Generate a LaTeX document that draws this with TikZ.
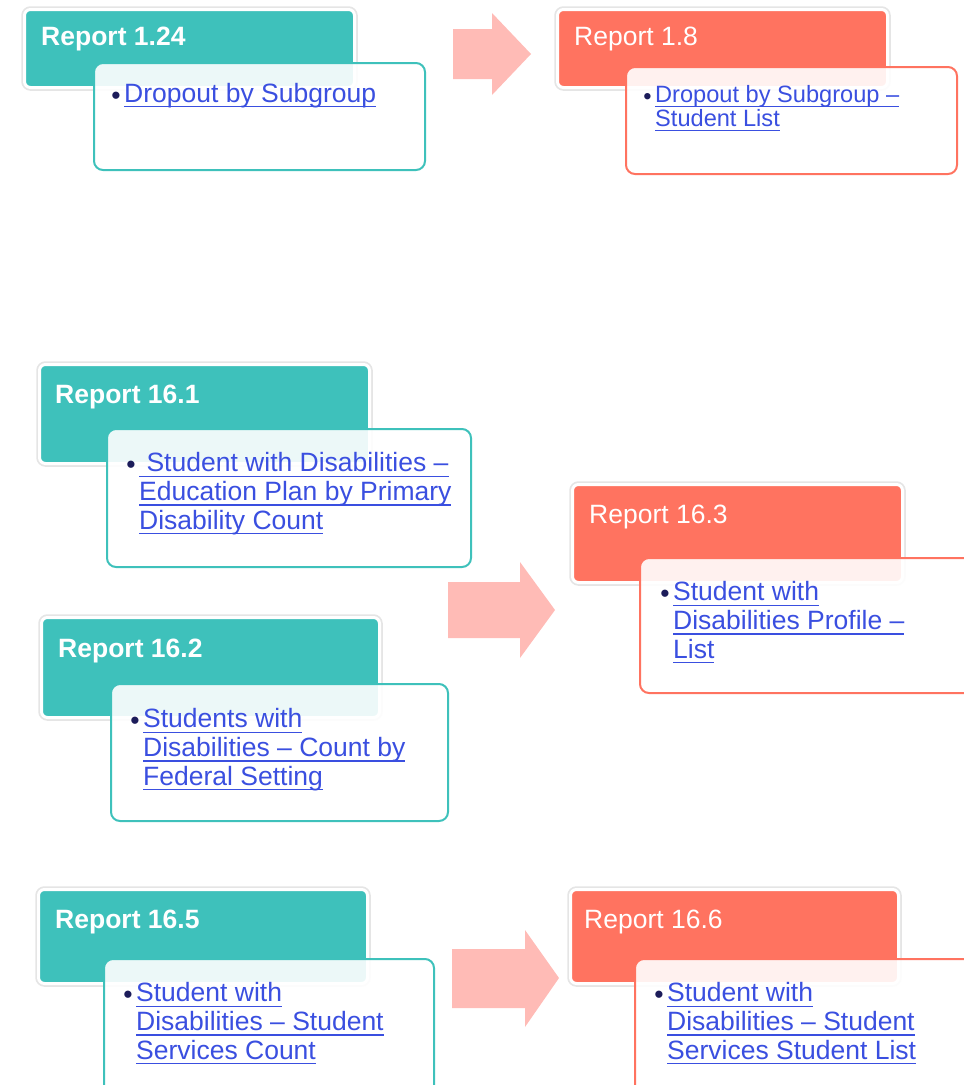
\documentclass[tikz,border=0pt]{standalone}
\usepackage{fontspec}
\setmainfont{Liberation Sans}

\definecolor{tealbox}{HTML}{3EC1BB}
\definecolor{salmonbox}{HTML}{FF7360}
\definecolor{arrowpink}{HTML}{FFBBB6}
\definecolor{linkblue}{HTML}{3A4FE0}
\definecolor{bulletnavy}{HTML}{1C1C5A}

% underlined link text and bullet
\newcommand{\linkline}[1]{\setbox0=\hbox{#1}\rlap{\rule[-5.2pt]{\wd0}{1.5pt}}\box0}
\newcommand{\blt}{\llap{\color{bulletnavy}\raisebox{-2pt}{\textbullet}\hspace{3.5pt}}}

\tikzset{
  report/.style={rounded corners=6pt, draw=white, line width=3pt, anchor=north west,
    inner sep=0pt, minimum width=330pt,
    preaction={draw=black!10, line width=6.5pt}},
  detail/.style={rounded corners=9pt, line width=2pt, fill=white, fill opacity=0.9,
    anchor=north west, inner sep=0pt},
  title/.style={anchor=base west, inner sep=0pt, text=white, font=\fontsize{26.5}{29}\selectfont},
  linktext/.style={anchor=base west, inner sep=0pt, align=left, text=linkblue,
    font=\fontsize{26.5}{28.6}\selectfont},
  blockarrow/.style={fill=arrowpink}
}

\begin{document}
\begin{tikzpicture}[x=1pt, y=-1pt]
\useasboundingbox (0,0) rectangle (964,1085);

% report 1.24 -> 1.8
\node (rep124) [report, fill=tealbox, minimum height=78pt] at (23,8) {};
\node (tit124) [title, font=\fontsize{26.5}{29}\selectfont\bfseries] at (41,45) {Report 1.24};
\node (box124) [detail, draw=tealbox, minimum width=331pt, minimum height=107pt] at (93,62) {};
\node (txt124) [linktext] at (124,102) {\blt\linkline{Dropout by Subgroup}};

\fill[blockarrow] (453,29) -- (492,29) -- (492,13) -- (531,54) -- (492,95) -- (492,79) -- (453,79) -- cycle;

\node (rep18) [report, fill=salmonbox, minimum height=78pt] at (556,8) {};
\node (tit18) [title] at (574,45) {Report 1.8};
\node (box18) [detail, draw=salmonbox, minimum width=331pt, minimum height=107pt] at (625,66) {};
% base anchor of a multi-line node sits on its last line
\node (txt18) [linktext, font=\fontsize{23.6}{24}\selectfont] at (655,126)
  {\blt\linkline{Dropout by Subgroup –}\\\linkline{Student List}};

% report 16.1 and 16.2 -> 16.3
\node (rep161) [report, fill=tealbox, minimum height=99pt] at (38,363) {};
\node (tit161) [title, font=\fontsize{26.5}{29}\selectfont\bfseries] at (55,403) {Report 16.1};
\node (box161) [detail, draw=tealbox, minimum width=364pt, minimum height=138pt] at (106,428) {};
\node (txt161) [linktext] at (139,529)
  {\blt\linkline{\ Student with Disabilities –}\\\linkline{Education Plan by Primary}\\\linkline{Disability Count}};

\node (rep162) [report, fill=tealbox, minimum width=338pt, minimum height=100pt] at (40,616) {};
\node (tit162) [title, font=\fontsize{26.5}{29}\selectfont\bfseries] at (58,657) {Report 16.2};
\node (box162) [detail, draw=tealbox, minimum width=337pt, minimum height=137pt] at (110,683) {};
\node (txt162) [linktext] at (143,785)
  {\blt\linkline{Students with}\\\linkline{Disabilities – Count by}\\\linkline{Federal Setting}};

\fill[blockarrow] (448,582) -- (520,582) -- (520,562) -- (555,610) -- (520,658) -- (520,638) -- (448,638) -- cycle;

\node (rep163) [report, fill=salmonbox, minimum height=98pt] at (571,483) {};
\node (tit163) [title] at (589,523) {Report 16.3};
\node (box163) [detail, draw=salmonbox, minimum width=360pt, minimum height=135pt] at (639,557) {};
\node (txt163) [linktext] at (673,658)
  {\blt\linkline{Student with}\\\linkline{Disabilities Profile –}\\\linkline{List}};

% report 16.5 -> 16.6
\node (rep165) [report, fill=tealbox, minimum width=329pt, minimum height=94pt] at (37,888) {};
\node (tit165) [title, font=\fontsize{26.5}{29}\selectfont\bfseries] at (55,928) {Report 16.5};
\node (box165) [detail, draw=tealbox, minimum width=330pt, minimum height=160pt] at (103,958) {};
\node (txt165) [linktext] at (136,1059)
  {\blt\linkline{Student with}\\\linkline{Disabilities – Student}\\\linkline{Services Count}};

\fill[blockarrow] (452,949) -- (525,949) -- (525,930) -- (559,978) -- (525,1027) -- (525,1008) -- (452,1008) -- cycle;

\node (rep166) [report, fill=salmonbox, minimum width=328pt, minimum height=94pt] at (569,888) {};
\node (tit166) [title] at (584,928) {Report 16.6};
\node (box166) [detail, draw=salmonbox, minimum width=366pt, minimum height=160pt] at (634,958) {};
\node (txt166) [linktext] at (667,1059)
  {\blt\linkline{Student with}\\\linkline{Disabilities – Student}\\\linkline{Services Student List}};

\end{tikzpicture}
\end{document}
